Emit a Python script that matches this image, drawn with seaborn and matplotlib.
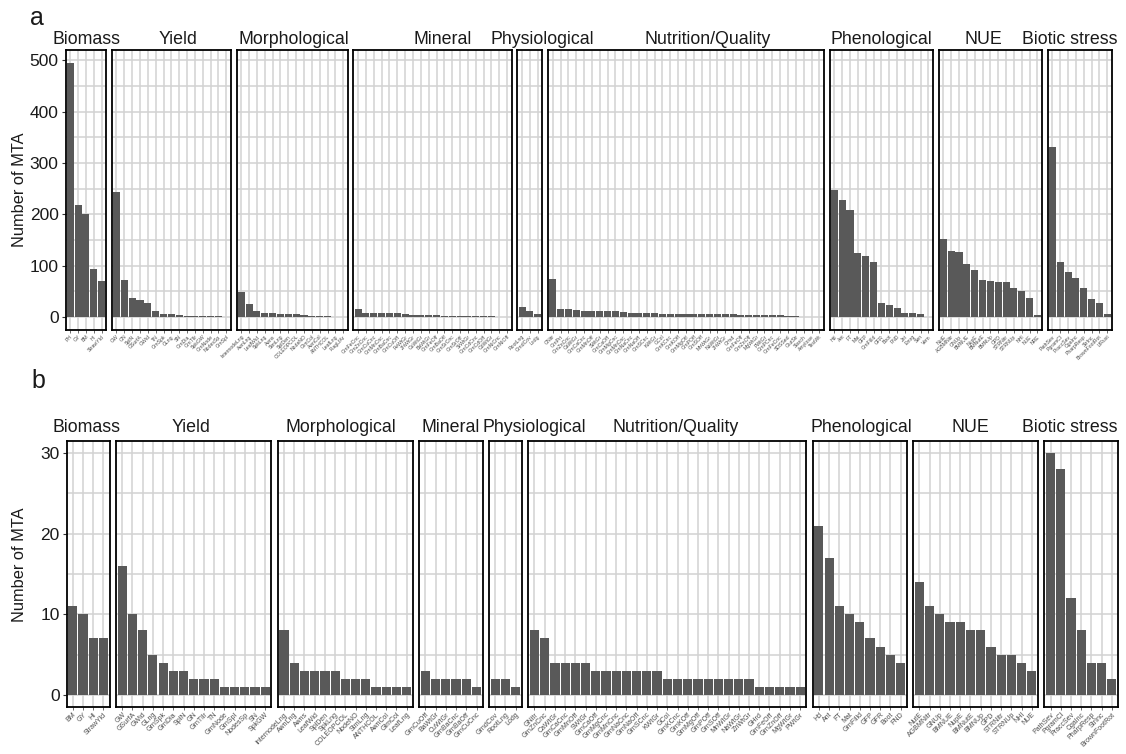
import matplotlib
matplotlib.use("Agg")
import matplotlib.pyplot as plt
from matplotlib.ticker import MultipleLocator, FixedLocator
import seaborn as sns

# ---------------- panel a: all MTA ----------------
a_biomass_traits = ["PH", "GY", "BM", "HI", "StrawYld"]
a_biomass_counts = [494, 219, 201, 93, 71]

a_yield_traits = ["GW", "GN", "SplN", "GSurfA", "GWid", "TN", "GrnSpk", "GLng",
                  "SN", "GrnDia", "GrnTllr", "SpkGW", "GrnNode", "NodesSp", "GrnSpl"]
a_yield_counts = [244, 72, 38, 34, 28, 12, 6, 6, 5, 3, 3, 2, 2, 2, 1]

a_morph_traits = ["InternodeLng", "AwnLng", "LeafWid", "SpkLng", "Awns", "StmLng",
                  "SplDen", "COLEOPCOL", "NodeNO", "GlmCol", "AwnCol", "ANTHCOL",
                  "LeafLng", "FlagLfAr"]
a_morph_counts = [49, 25, 12, 8, 8, 7, 6, 6, 5, 3, 2, 2, 1, 1]

a_mineral_traits = ["GrnFeCnc", "GrnZnCnc", "GrnCuCnc", "GrnMnCnc", "GrnBaCnc",
                    "GrnCuOff", "FeWtGr", "ZnWtGr", "CuWtGr", "BaWtGr", "GrnFeOff",
                    "GrnBaOff", "GrnSrCnc", "GrnSrOff", "SrWtGr", "GrnCdCnc",
                    "GrnCdOff", "CdWtGr", "GrnNiCnc", "GrnNiOff"]
a_mineral_counts = [16, 9, 9, 9, 9, 8, 6, 5, 5, 5, 5, 3, 3, 2, 2, 2, 2, 2, 1, 1]

a_phys_traits = ["RootLng", "GrndCov", "Lodg"]
a_phys_counts = [19, 12, 6]

a_nutr_traits = ["GNitr", "GrnPrt", "GrnZnCnc", "CaWtGr", "GrnCaCnc", "GrnMnOff",
                 "SWtGr", "GrnCaOff", "GrnMgCnc", "GrnMnCnc", "GrnNaCnc", "GrnNaOff",
                 "GrnSCnc", "KWtGr", "GCol", "GrnKCnc", "GrnKOff", "GrnMgOff",
                 "GrnPOff", "GrnSOff", "MnWtGr", "NaWtGr", "ZnWtGr", "GHrd",
                 "GrnFeOff", "GrnZnOff", "MgWtGr", "PWtGr", "GrnPCnc", "GrnFeCnc",
                 "SDSSed", "GlutStr", "Starch", "Amylose", "TestWt"]
a_nutr_counts = [75, 16, 15, 14, 12, 12, 12, 12, 12, 10, 9, 8, 8, 8, 7, 7, 7, 7,
                 7, 7, 6, 6, 6, 6, 5, 5, 5, 5, 5, 4, 3, 2, 1, 1, 1]

a_phen_traits = ["Hd", "Ant", "FT", "Mat", "GFP", "GrnFilld", "GFR", "Boot", "FND",
                 "Jnt", "Emrg", "Sen", "Vern"]
a_phen_counts = [248, 228, 208, 124, 119, 108, 28, 24, 18, 8, 8, 7, 1]

a_nue_traits = ["NutE", "AGBMNitr", "GNUp", "BMNUE", "NupE", "BMNutE", "BMNUp",
                "GPD", "STRNitr", "STRNUp", "NHI", "NUE", "NRE"]
a_nue_counts = [152, 129, 127, 103, 91, 73, 71, 69, 69, 57, 50, 37, 4]

a_biotic_traits = ["PathSev", "PgramCl", "PraccSev", "CgaInc", "PharpResp",
                   "StrInc", "BrownFootRot", "LfRust"]
a_biotic_counts = [332, 108, 88, 76, 57, 35, 28, 6]

# ---------------- panel b ----------------
b_biomass_traits = ["BM", "GY", "HI", "StrawYld"]
b_biomass_counts = [11, 10, 7, 7]

b_yield_traits = ["GW", "GSurfA", "GWid", "GLng", "GrnSpk", "GrnDia", "SplN", "GN",
                  "GrnTllr", "TN", "GrnNode", "GrnSpl", "NodesSp", "SN", "SpkGW"]
b_yield_counts = [16, 10, 8, 5, 4, 3, 3, 2, 2, 2, 1, 1, 1, 1, 1]

b_morph_traits = ["InternodeLng", "AwnLng", "Awns", "LeafWid", "SplDen", "SpkLng",
                  "COLEOPCOL", "NodeNO", "StmLng", "ANTHCOL", "AwnCol", "GlmCol",
                  "LeafLng"]
b_morph_counts = [8, 4, 3, 3, 3, 3, 2, 2, 2, 1, 1, 1, 1]

b_mineral_traits = ["GrnCuOff", "BaWtGr", "CuWtGr", "GrnBaCnc", "GrnBaOff", "GrnCuCnc"]
b_mineral_counts = [3, 2, 2, 2, 2, 1]

b_phys_traits = ["GrndCov", "RootLng", "Lodg"]
b_phys_counts = [2, 2, 1]

b_nutr_traits = ["GNitr", "GrnZnCnc", "CaWtGr", "GrnCaCnc", "GrnMnOff", "SWtGr",
                 "GrnCaOff", "GrnMgCnc", "GrnMnCnc", "GrnNaCnc", "GrnNaOff",
                 "GrnSCnc", "KWtGr", "GCol", "GrnKCnc", "GrnKOff", "GrnMgOff",
                 "GrnPOff", "GrnSOff", "MnWtGr", "NaWtGr", "ZnWtGr", "GHrd",
                 "GrnFeOff", "GrnZnOff", "MgWtGr", "PWtGr"]
b_nutr_counts = [8, 7, 4, 4, 4, 4, 3, 3, 3, 3, 3, 3, 3, 2, 2, 2, 2, 2, 2, 2, 2, 2,
                 1, 1, 1, 1, 1]

b_phen_traits = ["Hd", "Ant", "FT", "Mat", "GrnFilld", "GFP", "GFR", "Boot", "FND"]
b_phen_counts = [21, 17, 11, 10, 9, 7, 6, 5, 4]

b_nue_traits = ["NutE", "AGBMNitr", "GNUp", "BMNUE", "NupE", "BMNutE", "BMNUp",
                "GPD", "STRNitr", "STRNUp", "NHI", "NUE"]
b_nue_counts = [14, 11, 10, 9, 9, 8, 8, 6, 5, 5, 4, 3]

b_biotic_traits = ["PathSev", "PgramCl", "PraccSev", "CgaInc", "PharpResp",
                   "StrInc", "BrownFootRot"]
b_biotic_counts = [30, 28, 12, 8, 4, 4, 2]

group_names = ["Biomass", "Yield", "Morphological", "Mineral", "Physiological",
               "Nutrition/Quality", "Phenological", "NUE", "Biotic stress"]

panel_a = [(a_biomass_traits, a_biomass_counts), (a_yield_traits, a_yield_counts),
           (a_morph_traits, a_morph_counts), (a_mineral_traits, a_mineral_counts),
           (a_phys_traits, a_phys_counts), (a_nutr_traits, a_nutr_counts),
           (a_phen_traits, a_phen_counts), (a_nue_traits, a_nue_counts),
           (a_biotic_traits, a_biotic_counts)]
panel_b = [(b_biomass_traits, b_biomass_counts), (b_yield_traits, b_yield_counts),
           (b_morph_traits, b_morph_counts), (b_mineral_traits, b_mineral_counts),
           (b_phys_traits, b_phys_counts), (b_nutr_traits, b_nutr_counts),
           (b_phen_traits, b_phen_counts), (b_nue_traits, b_nue_counts),
           (b_biotic_traits, b_biotic_counts)]

# horizontal nudges (px) of the facet titles relative to the facet centres
strip_nudge_a = [1, 7, 2, 10, 12, 22, 0, -7, -10]
strip_nudge_b = [-2, -3, -4, 0, 29, 8, 2, -5, -11]

W, H = 1126, 754
BAR = "#595959"
GRID = "#d2d2d2"
FONT = ["Liberation Sans", "DejaVu Sans"]

sns.set_theme(style="white")
plt.rcParams["font.family"] = FONT

fig = plt.figure(figsize=(W / 100, H / 100), dpi=100)
strip_texts = []


def draw_row(groups, left, right, top, bottom, gap, ylim, major, minor,
             xfs, strip_base, nudges):
    units = [len(t) + 0.2 for t, _ in groups]
    scale = (right - left - gap * (len(groups) - 1)) / sum(units)
    x = left
    for i, ((traits, counts), name) in enumerate(zip(groups, group_names)):
        w = units[i] * scale
        ax = fig.add_axes([x / W, 1 - bottom / H, w / W, (bottom - top) / H])
        sns.barplot(x=traits, y=counts, color=BAR, saturation=1, width=0.9,
                    linewidth=0, ax=ax)
        n = len(traits)
        ax.set_xlim(-0.6, n - 0.4)
        ax.set_ylim(*ylim)
        ax.set_xlabel("")
        ax.set_ylabel("")
        ax.yaxis.set_major_locator(FixedLocator(major))
        ax.yaxis.set_minor_locator(MultipleLocator(minor))
        ax.set_axisbelow(True)
        ax.grid(True, which="major", axis="both", color=GRID, lw=1.1)
        ax.grid(True, which="minor", axis="y", color=GRID, lw=1.1)
        for s in ax.spines.values():
            s.set_visible(True)
            s.set_color("black")
            s.set_linewidth(1.3)
        ax.tick_params(axis="x", length=2, width=0.6, color="#555555", pad=1,
                       labelsize=xfs, labelcolor="#4d4d4d", bottom=True)
        ax.tick_params(axis="y", which="minor", length=0)
        plt.setp(ax.get_xticklabels(), rotation=45, ha="right",
                 rotation_mode="anchor")
        if i == 0:
            ax.tick_params(axis="y", which="major", length=3, width=0.8,
                           color="#333333", labelsize=12.5, labelcolor="#1a1a1a",
                           pad=2, left=True)
        else:
            ax.tick_params(axis="y", which="major", length=0, labelleft=False)
        t = fig.text((x + w / 2 + nudges[i]) / W, 1 - strip_base / H, name,
                     ha="center", va="baseline", fontsize=12.8, color="#1a1a1a")
        strip_texts.append(t)
        x += w + gap


draw_row(panel_a, 65.5, 1112, 50, 330, 5.5, (-25, 520),
         [0, 100, 200, 300, 400, 500], 50, 3.7, 44, strip_nudge_a)
draw_row(panel_b, 66.7, 1118, 441, 707, 6.5, (-1.5, 31.5),
         [0, 10, 20, 30], 5, 5.0, 432, strip_nudge_b)

# keep facet titles inside the figure's right edge
renderer = fig.canvas.get_renderer()
for t in strip_texts:
    bb = t.get_window_extent(renderer)
    if bb.x1 > W - 7:
        tx, ty = t.get_position()
        t.set_position((tx - (bb.x1 - (W - 7)) / W, ty))

fig.text(20 / W, 1 - 190 / H, "Number of MTA", rotation=90, ha="center",
         va="center", fontsize=11.8, color="#1a1a1a")
fig.text(20 / W, 1 - 565 / H, "Number of MTA", rotation=90, ha="center",
         va="center", fontsize=11.8, color="#1a1a1a")
fig.text(30 / W, 1 - 25 / H, "a", ha="left", va="baseline", fontsize=18,
         color="#1a1a1a")
fig.text(31 / W, 1 - 388 / H, "b", ha="left", va="baseline", fontsize=18,
         color="#1a1a1a")

fig.savefig("out.png", dpi=100)
